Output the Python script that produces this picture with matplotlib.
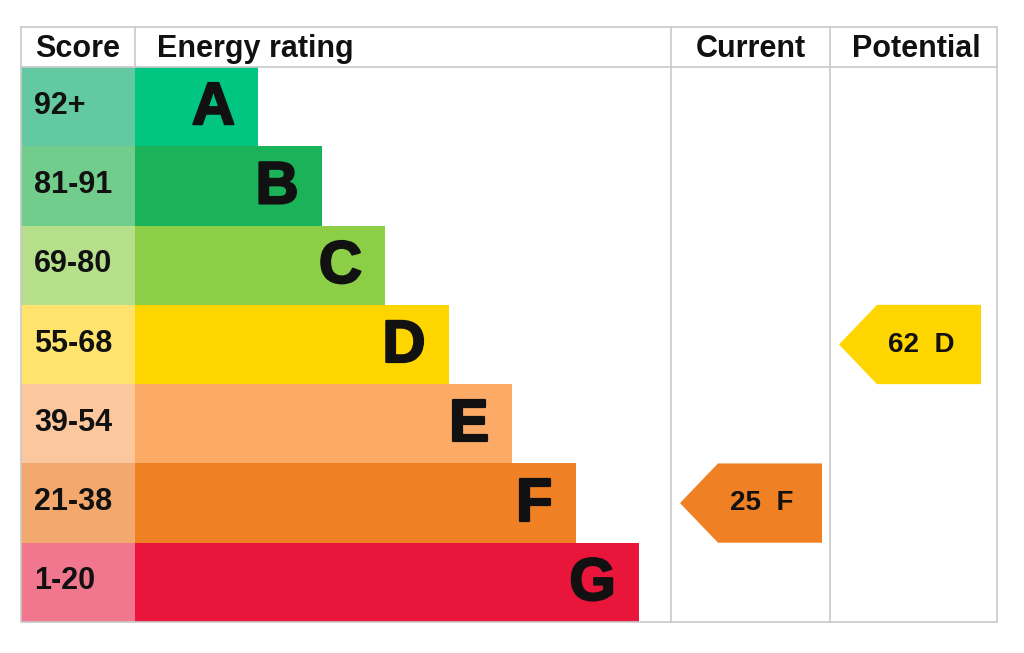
import matplotlib
matplotlib.use("Agg")
import matplotlib.pyplot as plt
import matplotlib.patheffects as pe
from matplotlib.patches import Polygon, Rectangle

# ---- data ----
bands = ["A", "B", "C", "D", "E", "F", "G"]
score_labels = ["92+", "81-91", "69-80", "55-68", "39-54", "21-38", "1-20"]
band_min = [92, 81, 69, 55, 39, 21, 1]
bar_colors = ["#00c682", "#1bb35a", "#8cce46", "#ffd500", "#fcaa65", "#ef8024", "#e9153b"]
score_colors = ["#62c9a2", "#72cc8c", "#b6df8c", "#ffe36c", "#fdc79d", "#f3a86d", "#f1778f"]
headers = ["Score", "Energy rating", "Current", "Potential"]
current_score = 25
potential_score = 62

# ---- layout (pixels) ----
W, H = 1024, 653
left, right, top, bottom = 21, 997, 27, 622
header_bottom = 67
col_score_end = 135
col_current = 671
col_potential = 830
bar_first_end = 258
bar_step = 63.5
row_h = (bottom - header_bottom) / len(bands)
grid_color = "#c9c9c9"
font = ["Liberation Sans", "DejaVu Sans"]
ink = "#111111"
heavy = [pe.withStroke(linewidth=1.6, foreground=ink)]

fig = plt.figure(figsize=(W / 100, H / 100), dpi=100)
ax = fig.add_axes([0, 0, 1, 1])
ax.set_xlim(0, W)
ax.set_ylim(H, 0)
ax.axis("off")


def band_of(score):
    for i, m in enumerate(band_min):
        if score >= m:
            return i
    return len(bands) - 1


for i, (b, lab) in enumerate(zip(bands, score_labels)):
    y0 = header_bottom + i * row_h
    yc = y0 + row_h / 2
    ax.add_patch(Rectangle((left, y0), col_score_end - left, row_h,
                           facecolor=score_colors[i], edgecolor="none"))
    bar_end = bar_first_end + i * bar_step
    ax.barh(yc, bar_end - col_score_end, height=row_h, left=col_score_end,
            color=bar_colors[i], edgecolor="none")
    ax.text(left + 13, yc - 1, lab, fontsize=22, fontweight="bold",
            family=font, ha="left", va="center", color=ink)
    ax.text(bar_end - 23, yc + 2, b, fontsize=43, fontweight="bold",
            family=font, ha="right", va="center", color=ink, path_effects=heavy)


def arrow(score, col_x0, col_x1, pad_right):
    i = band_of(score)
    y0 = header_bottom + i * row_h
    yc = y0 + row_h / 2
    tip = col_x0 + 9
    body = tip + 38
    rx = col_x1 - pad_right
    poly = Polygon([(tip, yc), (body, y0), (rx, y0), (rx, y0 + row_h), (body, y0 + row_h)],
                   closed=True, facecolor=bar_colors[i], edgecolor="none")
    ax.add_patch(poly)
    ax.text((body + rx) / 2 - 8, yc, f"{score}  {bands[i]}", fontsize=20,
            fontweight="bold", family=font, ha="center", va="center", color=ink)


arrow(current_score, col_current, col_potential, 8)
arrow(potential_score, col_potential, right, 16)

# grid lines
lw = 1.2
ax.plot([left, right, right, left, left], [top, top, bottom, bottom, top], color=grid_color, lw=lw)
ax.plot([left, right], [header_bottom, header_bottom], color=grid_color, lw=lw)
ax.plot([col_score_end, col_score_end], [top, header_bottom], color=grid_color, lw=lw)
ax.plot([col_current, col_current], [top, bottom], color=grid_color, lw=lw)
ax.plot([col_potential, col_potential], [top, bottom], color=grid_color, lw=lw)

# headers
hy = (top + header_bottom) / 2 + 2
hs = 22
ax.text(left + 14, hy, headers[0], fontsize=hs, fontweight="bold", family=font,
        ha="left", va="center", color=ink)
ax.text(col_score_end + 22, hy, headers[1], fontsize=hs, fontweight="bold", family=font,
        ha="left", va="center", color=ink)
ax.text((col_current + col_potential) / 2, hy, headers[2], fontsize=hs, fontweight="bold",
        family=font, ha="center", va="center", color=ink)
ax.text((col_potential + right) / 2 + 3, hy, headers[3], fontsize=hs, fontweight="bold",
        family=font, ha="center", va="center", color=ink)

fig.savefig("out.png", dpi=100, facecolor="white")
